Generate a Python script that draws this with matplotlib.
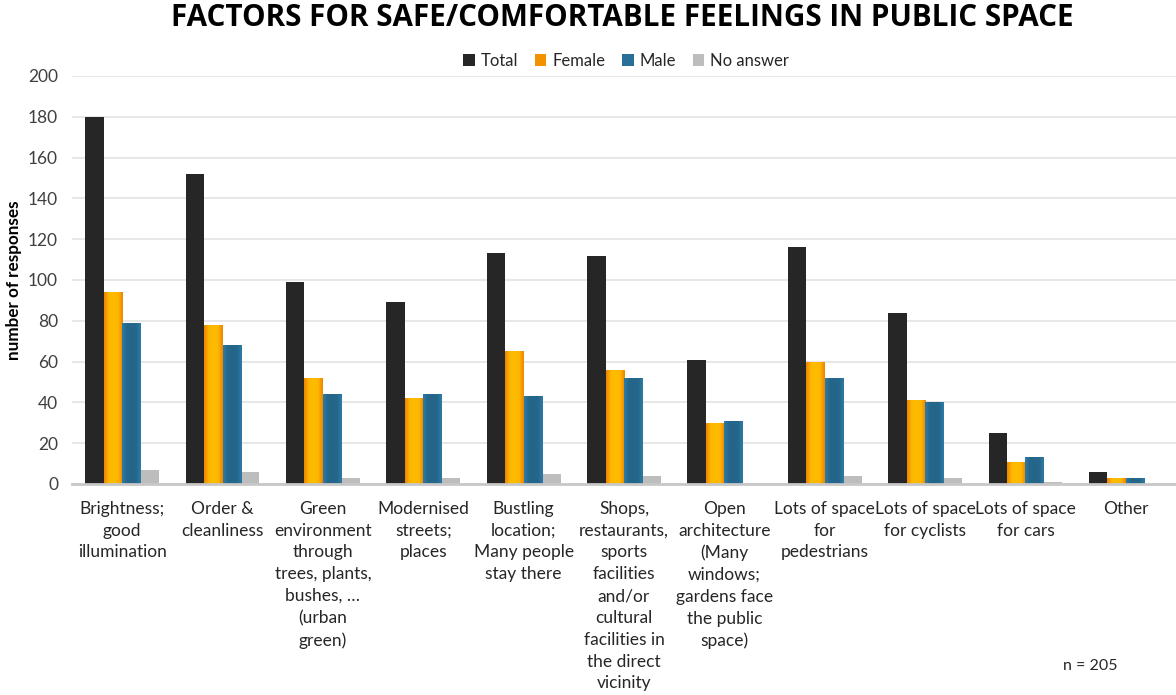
import matplotlib
matplotlib.use("Agg")
import matplotlib.pyplot as plt
import numpy as np
from matplotlib.colors import LinearSegmentedColormap

categories = [
    "Brightness;\ngood\nillumination",
    "Order &\ncleanliness",
    "Green\nenvironment\nthrough\ntrees, plants,\nbushes, …\n(urban\ngreen)",
    "Modernised\nstreets;\nplaces",
    "Bustling\nlocation;\nMany people\nstay there",
    "Shops,\nrestaurants,\nsports\nfacilities\nand/or\ncultural\nfacilities in\nthe direct\nvicinity",
    "Open\narchitecture\n(Many\nwindows;\ngardens face\nthe public\nspace)",
    "Lots of space\nfor\npedestrians",
    "Lots of space\nfor cyclists",
    "Lots of space\nfor cars",
    "Other",
]
series_names = ["Total", "Female", "Male", "No answer"]
total = [180, 152, 99, 89, 113, 112, 61, 116, 84, 25, 6]
female = [94, 78, 52, 42, 65, 56, 30, 60, 41, 11, 3]
male = [79, 68, 44, 44, 43, 52, 31, 52, 40, 13, 3]
no_answer = [7, 6, 3, 3, 5, 4, 0, 4, 3, 1, 0]
yticks = list(range(0, 201, 20))

colors = ["#262626", "#F39200", "#2A6F97", "#BDBDBD"]
grad_maps = [
    None,
    LinearSegmentedColormap.from_list("o", ["#EE8400", "#FDB800", "#FDBB00", "#FDB800", "#EE8400"]),
    LinearSegmentedColormap.from_list("b", ["#2F7BA6", "#25678C", "#25658A", "#25678C", "#2F7BA6"]),
    None,
]

plt.rcParams["font.family"] = ["Lato", "DejaVu Sans"]
fig = plt.figure(figsize=(11.76, 6.95), dpi=100)
ax = fig.add_axes([72 / 1176, 1 - 484 / 695, (1176 - 72) / 1176, (484 - 76) / 695])

x = np.arange(len(categories))
w = 0.184
data = [total, female, male, no_answer]
handles = []
for i, (vals, col, name) in enumerate(zip(data, colors, series_names)):
    bars = ax.bar(x + (i - 1.5) * w, vals, w, color=col, label=name, zorder=3, linewidth=0)
    handles.append(bars)
    if grad_maps[i] is not None:
        grad = np.linspace(0, 1, 64).reshape(1, -1)
        for b in bars:
            h = b.get_height()
            if h <= 0:
                continue
            bx, bw = b.get_x(), b.get_width()
            im = ax.imshow(grad, extent=[bx, bx + bw, 0, h], cmap=grad_maps[i],
                           aspect="auto", zorder=4, interpolation="bicubic")
            im.set_clip_path(b)

ax.set_xlim(-0.5, len(categories) - 0.5)
ax.set_ylim(0, 200)
ax.set_yticks(yticks)
ax.set_yticklabels([str(t) for t in yticks], fontsize=12.5, color="#404040")
ax.set_xticks(x)
ax.set_xticklabels(categories, fontsize=12.5, color="#262626", linespacing=1.45, va="top")
ax.tick_params(axis="both", length=0)
ax.tick_params(axis="x", pad=12)
ax.tick_params(axis="y", pad=10)
ax.grid(axis="y", color="#E3E3E3", linewidth=1.2, zorder=0)
for s in ["top", "right", "left"]:
    ax.spines[s].set_visible(False)
ax.spines["bottom"].set_color("#C8C8C8")
ax.spines["bottom"].set_linewidth(2)
ax.spines["bottom"].set_zorder(5)

ax.set_ylabel("number of responses", fontsize=12.3, fontweight="bold", color="#000000", labelpad=4)

fig.text(622 / 1176, 1 - 18 / 695, "FACTORS FOR SAFE/COMFORTABLE FEELINGS IN PUBLIC SPACE",
         ha="center", va="center", fontsize=21.3, fontweight="bold", color="#000000",
         family=["Open Sans", "DejaVu Sans"])

leg = fig.legend(handles=handles, labels=series_names, loc="center", bbox_to_anchor=(626 / 1176, 1 - 61 / 695),
                 ncol=4, frameon=False, fontsize=12, handlelength=0.7, handleheight=0.7,
                 handletextpad=0.35, columnspacing=1.0)
for t in leg.get_texts():
    t.set_color("#262626")

fig.text(1090 / 1176, 1 - 666 / 695, "n = 205", ha="center", va="center", fontsize=11.5, color="#262626")

fig.savefig("out.png", dpi=100)
